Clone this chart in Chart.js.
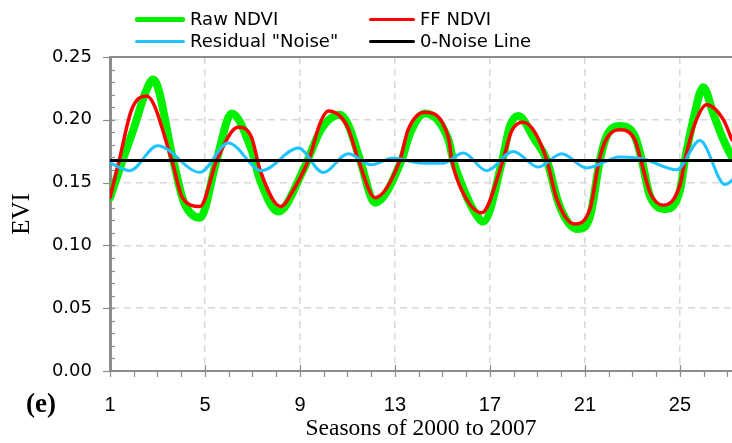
<!DOCTYPE html>
<html>
<head>
<meta charset="utf-8">
<script src="https://cdn.jsdelivr.net/npm/chart.js@4.4.1/dist/chart.umd.min.js"></script>
<style>
  html, body { margin: 0; padding: 0; background: #fff; }
  #wrap { position: relative; width: 732px; height: 443px; overflow: hidden; }
  #legend { position: absolute; left: 0; top: 0; width: 732px; height: 56px; font-family: "DejaVu Sans", sans-serif; font-size: 18px; color: #000; }
  .sw { position: absolute; border-radius: 2px; }
  .lt { position: absolute; white-space: nowrap; }
  #tag { position: absolute; left: 26px; top: 388px; font-family: "Liberation Serif", serif; font-weight: bold; font-size: 27px; }
</style>
</head>
<body>
<div id="wrap">
  <canvas id="c" width="732" height="443"></canvas>
  <div id="legend"></div>
  <div id="tag">(e)</div>
</div>
<script>
// ---- data ----
const rawSeasons = [1, 1.5, 2.0, 2.5, 2.82, 3.66, 4.1, 4.79, 5.49, 6.12, 6.96, 7.32, 8.09, 9.14, 9.91, 10.68, 11.03, 11.53, 12.16, 13.28, 13.63, 14.26, 15.25, 15.45, 15.95, 16.37, 16.72, 17.52, 17.84, 18.19, 18.89, 19.39, 19.88, 20.3, 20.72, 21.21, 21.63, 21.91, 22.47, 23.1, 23.39, 23.74, 24.44, 25.0, 25.21, 25.56, 25.98, 26.4, 26.83, 27.19, 27.5];
const rawValues  = [0.138, 0.166, 0.193, 0.222, 0.232, 0.168, 0.135, 0.122, 0.168, 0.205, 0.176, 0.152, 0.127, 0.160, 0.193, 0.204, 0.196, 0.168, 0.134, 0.168, 0.189, 0.205, 0.184, 0.168, 0.142, 0.126, 0.119, 0.168, 0.195, 0.203, 0.184, 0.168, 0.134, 0.118, 0.113, 0.123, 0.168, 0.187, 0.195, 0.187, 0.168, 0.139, 0.129, 0.144, 0.168, 0.200, 0.226, 0.205, 0.184, 0.170, 0.160];

const ffSeasons = [1, 1.39, 1.91, 2.54, 3.6, 4.05, 4.79, 5.5, 6.4, 6.96, 7.32, 8.19, 8.72, 9.42, 9.84, 10.19, 10.68, 11.03, 11.46, 12.16, 13.21, 13.55, 14.26, 15.25, 15.39, 15.81, 16.65, 17.55, 17.91, 18.4, 18.89, 19.39, 19.81, 20.55, 21.21, 21.6, 21.91, 22.47, 23.1, 23.35, 23.74, 24.3, 25.0, 25.21, 25.63, 26.12, 26.83, 27.19, 27.5];
const ffValues  = [0.138, 0.168, 0.208, 0.219, 0.168, 0.138, 0.131, 0.168, 0.194, 0.186, 0.160, 0.131, 0.144, 0.171, 0.197, 0.207, 0.203, 0.193, 0.168, 0.138, 0.168, 0.192, 0.206, 0.186, 0.168, 0.144, 0.126, 0.168, 0.191, 0.198, 0.190, 0.168, 0.137, 0.117, 0.129, 0.168, 0.185, 0.192, 0.184, 0.168, 0.142, 0.132, 0.148, 0.168, 0.197, 0.212, 0.200, 0.184, 0.172];

const resSeasons = [1, 1.84, 3.0, 4.79, 5.98, 7.39, 8.93, 9.98, 11.03, 12.0, 12.93, 14.05, 15.0, 15.88, 16.86, 17.98, 19.03, 20.02, 21.07, 22.47, 23.46, 24.86, 25.84, 26.9, 27.5];
const resValues  = [0.1656, 0.1595, 0.1794, 0.1582, 0.1815, 0.1595, 0.1775, 0.158, 0.173, 0.1643, 0.1696, 0.1656, 0.1654, 0.1735, 0.1595, 0.1748, 0.1624, 0.173, 0.1617, 0.1704, 0.1688, 0.1603, 0.1836, 0.1484, 0.158];

const zeroSeasons = [1, 27.5];
const zeroValues  = [0.1675, 0.1675];

const seriesLabels = ['Raw NDVI', 'FF NDVI', 'Residual "Noise"', '0-Noise Line'];
const seriesColors = ['#00f000', '#ff0000', '#1ec3ff', '#000000'];

const xMajorTicks = [1, 5, 9, 13, 17, 21, 25];
const yTickValues = [0, 0.05, 0.10, 0.15, 0.20, 0.25];

const xTitle = 'Seasons of 2000 to 2007';
const yTitle = 'EVI';

// ---- build ----
function pts(xs, ys) { return xs.map((x, i) => ({ x: x, y: ys[i] })); }

const GRAY = '#8c8c8c';
const GRID = '#d9d9d9';

const tickPlugin = {
  id: 'minorTicks',
  beforeDatasetsDraw(chart) {
    const ctx = chart.ctx;
    const xs = chart.scales.x, ys = chart.scales.y;
    const ca = chart.chartArea;
    ctx.save();
    ctx.strokeStyle = GRAY;
    ctx.lineWidth = 1.2;
    for (let k = 0; k <= 25; k++) {
      const v = k / 100;
      const py = Math.round(ys.getPixelForValue(v)) + 0.5;
      const major = (k % 5 === 0);
      ctx.beginPath();
      ctx.moveTo(major ? ca.left - 7 : ca.left, py);
      ctx.lineTo(ca.left + 5, py);
      ctx.stroke();
    }
    for (let s = 1; s <= 27; s++) {
      const px = Math.round(xs.getPixelForValue(s)) + 0.5;
      const major = ((s - 1) % 4 === 0);
      ctx.beginPath();
      ctx.moveTo(px, major ? ca.bottom - 6 : ca.bottom);
      ctx.lineTo(px, ca.bottom + 6);
      ctx.stroke();
    }
    ctx.lineWidth = 2;
    ctx.beginPath();
    ctx.moveTo(ca.left, ca.top);
    ctx.lineTo(ca.right, ca.top);
    ctx.stroke();
    ctx.restore();
  }
};

const widths = [8, 3.5, 3, 3];
const orders = [3, 2, 1, 0];
const dataPairs = [[rawSeasons, rawValues], [ffSeasons, ffValues], [resSeasons, resValues], [zeroSeasons, zeroValues]];

const datasets = dataPairs.map((p, i) => ({
  label: seriesLabels[i],
  data: pts(p[0], p[1]),
  borderColor: seriesColors[i],
  backgroundColor: seriesColors[i],
  borderWidth: widths[i],
  pointRadius: 0,
  fill: false,
  cubicInterpolationMode: i === 3 ? 'default' : 'monotone',
  tension: 0,
  borderCapStyle: 'round',
  borderJoinStyle: 'round',
  order: orders[i]
}));

new Chart(document.getElementById('c'), {
  type: 'line',
  data: { datasets: datasets },
  plugins: [tickPlugin],
  options: {
    responsive: false,
    animation: false,
    events: [],
    layout: { padding: { top: 57, left: 0, right: 0, bottom: 0 } },
    plugins: { legend: { display: false }, tooltip: { enabled: false } },
    scales: {
      x: {
        type: 'linear',
        min: 1,
        max: 27.19,
        afterBuildTicks: (s) => { s.ticks = xMajorTicks.map(v => ({ value: v })); },
        afterFit: (s) => { s.height = 72; },
        ticks: {
          padding: 22,
          autoSkip: false,
          maxRotation: 0,
          color: '#000',
          font: { family: '"Liberation Sans", sans-serif', size: 20 },
          callback: (v) => String(v)
        },
        grid: {
          drawTicks: false,
          lineWidth: 1.5,
          color: (c) => (c.tick && c.tick.value === 1) ? 'rgba(0,0,0,0)' : GRID
        },
        border: { display: true, color: GRAY, width: 2, dash: [7, 5] },
        title: {
          display: true,
          text: xTitle,
          color: '#000',
          font: { family: '"Liberation Serif", serif', size: 23.5, lineHeight: 1.2 },
          padding: { top: 0, bottom: 0 }
        }
      },
      y: {
        type: 'linear',
        min: 0,
        max: 0.25,
        afterBuildTicks: (s) => { s.ticks = yTickValues.map(v => ({ value: v })); },
        afterFit: (s) => { s.width = 110; },
        ticks: {
          padding: 18,
          color: '#000',
          font: { family: '"DejaVu Sans", sans-serif', size: 18 },
          callback: (v) => Number(v).toFixed(2)
        },
        grid: {
          drawTicks: false,
          lineWidth: 1.5,
          color: (c) => (c.tick && (c.tick.value === 0 || c.tick.value >= 0.249)) ? 'rgba(0,0,0,0)' : GRID
        },
        border: { display: true, color: GRAY, width: 3, dash: [7, 5] },
        title: {
          display: true,
          text: yTitle,
          color: '#000',
          font: { family: '"Liberation Serif", serif', size: 25, lineHeight: 1.2 },
          padding: { top: 7, bottom: 0 }
        }
      }
    }
  }
});

// ---- HTML legend from the same arrays ----
const legendPos = [
  { line: [135, 185], text: 190, y: 19, w: 5 },
  { line: [369, 415], text: 420, y: 19, w: 3 },
  { line: [135, 185], text: 190, y: 41, w: 3 },
  { line: [369, 415], text: 420, y: 41, w: 3 }
];
const lg = document.getElementById('legend');
seriesLabels.forEach((lab, i) => {
  const p = legendPos[i];
  const sw = document.createElement('div');
  sw.className = 'sw';
  sw.style.left = p.line[0] + 'px';
  sw.style.width = (p.line[1] - p.line[0]) + 'px';
  sw.style.top = (p.y - p.w / 2) + 'px';
  sw.style.height = p.w + 'px';
  sw.style.background = seriesColors[i];
  lg.appendChild(sw);
  const t = document.createElement('div');
  t.className = 'lt';
  t.style.left = p.text + 'px';
  t.style.top = (p.y - 11) + 'px';
  t.style.lineHeight = '22px';
  t.textContent = lab;
  lg.appendChild(t);
});
</script>
</body>
</html>
